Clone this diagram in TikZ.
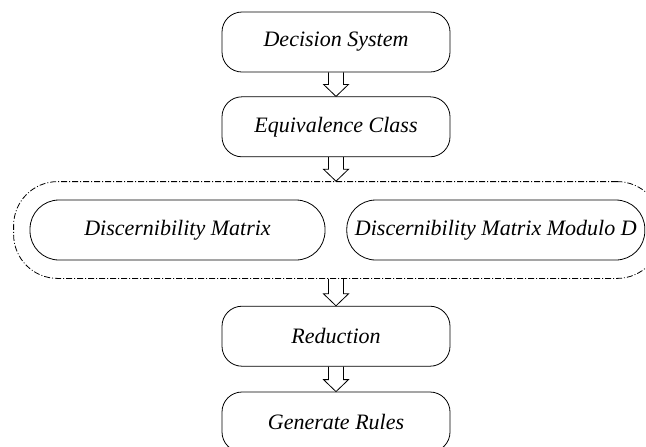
\documentclass[tikz,border=0pt]{standalone}
\usepackage{fontspec}
\setmainfont{Liberation Serif}
\usetikzlibrary{positioning,fit,calc}

\begin{document}
\begin{tikzpicture}
			[node distance = 12pt, font=\fontsize{11}{13}\selectfont\itshape,
			% STYLES
			% The stage style is used for the boxes of the main flow
			stage/.style={rectangle, draw, rounded corners=10pt, minimum width=114pt, minimum height=30pt, inner sep=2pt},
			% The matrixbox style is used for the two matrices
			matrixbox/.style={rectangle, draw, rounded corners=14.5pt, minimum height=30pt, inner sep=2pt},
			% The group style is used for the dash-dotted frame
			group/.style={rectangle, draw, rounded corners=22pt, dash pattern=on 3pt off 1pt on 0.5pt off 1pt, inner xsep=8pt, inner ysep=9pt},
			% The flow style draws a hollow block arrow
			flow/.style={draw, to path={
				($(\tikztostart)+(-3.75pt,0)$) -- ($(\tikztotarget)+(-3.75pt,6pt)$) -- ($(\tikztotarget)+(-6.25pt,6pt)$)
				-- (\tikztotarget) -- ($(\tikztotarget)+(6.25pt,6pt)$) -- ($(\tikztotarget)+(3.75pt,6pt)$)
				-- ($(\tikztostart)+(3.75pt,0)$)}}]
			\useasboundingbox (0,0) rectangle (323pt,-223pt);
			% Draw stages
			\node [stage] (system) at (168pt,-21pt) {Decision System};
			\node [stage, below=of system] (class) {Equivalence Class};
			\node [matrixbox, minimum width=147.5pt] (matrix) at (88.75pt,-115pt) {Discernibility Matrix};
			\node [matrixbox, minimum width=149pt, right=10.5pt of matrix] (modulo) {Discernibility Matrix Modulo D};
			\node [group, fit=(matrix) (modulo)] (matrices) {};
			\node [stage, below=13.5pt of matrices.south -| system] (reduction) {Reduction};
			\node [stage, below=12.5pt of reduction] (rules) {Generate Rules};
			% Draw the links between stages
			\path
			(system.south) edge[flow] (class.north)
			(class.south) edge[flow] (class.south |- matrices.north)
			(reduction.north |- matrices.south) edge[flow] (reduction.north)
			(reduction.south) edge[flow] (rules.north);
\end{tikzpicture}
\end{document}
